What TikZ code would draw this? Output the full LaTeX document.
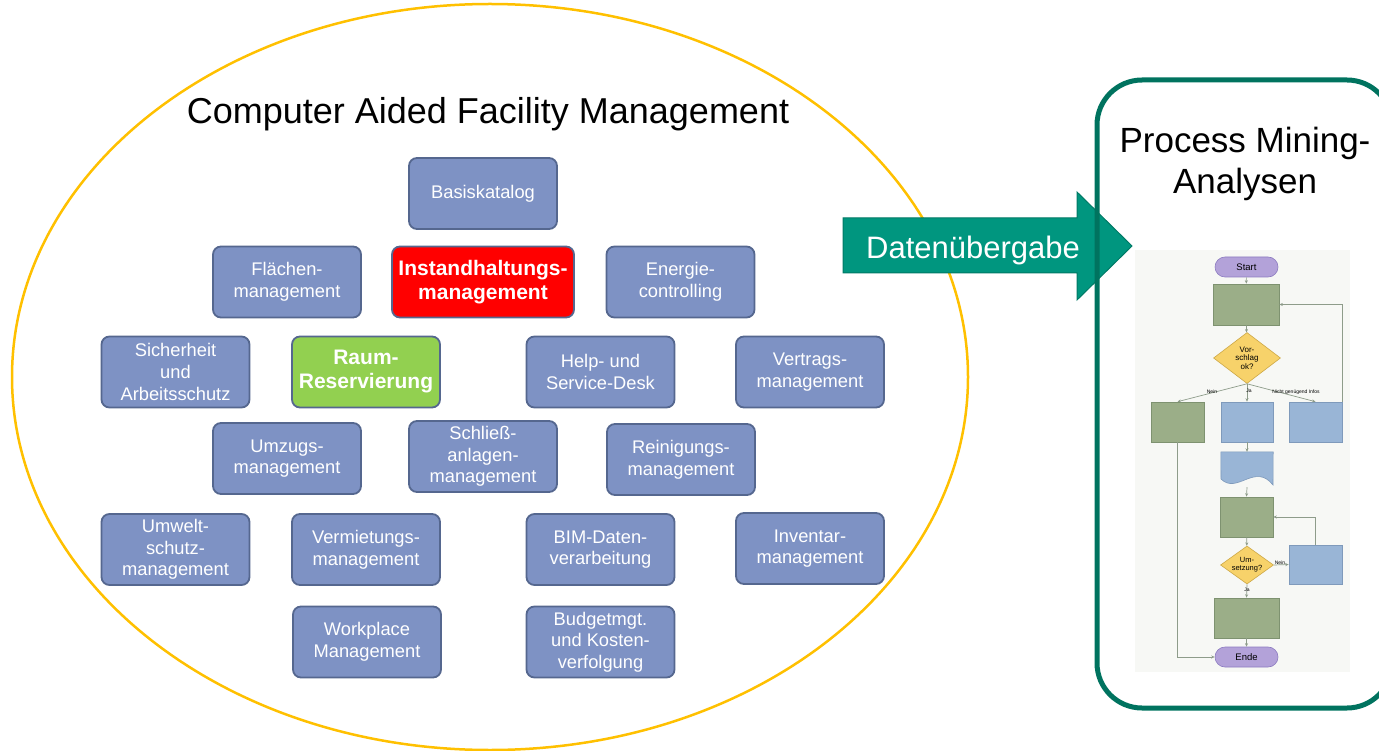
\documentclass[tikz,border=0pt]{standalone}
\usepackage{fontspec}
\setmainfont{Liberation Sans}
\usepackage{xcolor}
\usetikzlibrary{shapes.geometric,arrows.meta}
\definecolor{modulblau}{HTML}{7E92C4}
\definecolor{modulrand}{HTML}{55678F}
\definecolor{instrot}{HTML}{FF0000}
\definecolor{raumgruen}{HTML}{92D050}
\definecolor{cafmgelb}{HTML}{FFC000}
\definecolor{pfeilgruen}{HTML}{00967F}
\definecolor{pfeilrand}{HTML}{007A66}
\definecolor{boxgruen}{HTML}{00735F}
\definecolor{fsgrund}{HTML}{F7F8F5}
\definecolor{fsalbei}{HTML}{9BAE88}
\definecolor{fsalbeirand}{HTML}{7E9270}
\definecolor{fshellblau}{HTML}{99B5D6}
\definecolor{fsblaurand}{HTML}{7F9ABB}
\definecolor{fslila}{HTML}{B3A2D9}
\definecolor{fslilarand}{HTML}{8C7BC0}
\definecolor{fsgelb}{HTML}{F7D26A}
\definecolor{fsgelbrand}{HTML}{CDA846}
\definecolor{fslinie}{HTML}{8E9C8A}
\begin{document}
\begin{tikzpicture}[x=1pt, y=-1pt,
    modul/.style={draw=modulrand, fill=modulblau, line width=1.8pt, rounded corners=8pt,
      minimum width=148pt, minimum height=71pt, inner sep=2pt, align=center, text=white,
      font=\fontsize{18.3}{21.7}\selectfont},
    hervor/.style={modul, font=\fontsize{21}{24}\selectfont\bfseries},
    fsbox/.style={line width=0.6pt, inner sep=0pt},
    fsgruen/.style={fsbox, fill=fsalbei, draw=fsalbeirand},
    fsblau/.style={fsbox, fill=fshellblau, draw=fsblaurand},
    fsend/.style={fsbox, fill=fslila, draw=fslilarand, rounded corners=10pt,
      minimum width=63pt, minimum height=20pt, font=\fontsize{9.5}{10}\selectfont},
    fsraute/.style={fsbox, diamond, fill=fsgelb, draw=fsgelbrand, align=center},
    fspfeil/.style={draw=fslinie, line width=0.7pt, -{Stealth[length=3.5pt,width=3pt]}},
    fslabel/.style={font=\fontsize{5}{6}\selectfont, inner sep=0.5pt}]
    \useasboundingbox (0,0) rectangle (1379,751);
    \draw[cafmgelb, line width=2.5pt] (490,377) ellipse [x radius=478pt, y radius=373pt];
    \node[font=\fontsize{36}{42}\selectfont, anchor=base] (cafm) at (488,124) {Computer Aided Facility Management};

    \node[modul] (basis) at (483,193.5) {Basiskatalog};
    \node[modul] (flaeche) at (287,282) {Flächen-\\management};
    \node[hervor, fill=instrot, minimum width=182pt] (instand) at (483,282) {Instandhaltungs-\\management};
    \node[modul] (energie) at (680.5,282) {Energie-\\controlling};
    \node[modul] (sicher) at (175.5,372) {Sicherheit\\und\\Arbeitsschutz};
    \node[hervor, fill=raumgruen] (raum) at (366,372) {Raum-\\Reservierung};
    \node[modul] (help) at (600.5,372) {Help- und\\Service-Desk};
    \node[modul] (vertrag) at (810,372) {Vertrags-\\management};
    \node[modul] (umzug) at (287,458.5) {Umzugs-\\management};
    \node[modul] (schliess) at (483,456.5) {Schließ-\\anlagen-\\management};
    \node[modul] (reinigung) at (681,459.5) {Reinigungs-\\management};
    \node[modul] (umwelt) at (175.5,549.5) {Umwelt-\\schutz-\\management};
    \node[modul] (vermietung) at (366,549.5) {Vermietungs-\\management};
    \node[modul] (bim) at (600.5,549.5) {BIM-Daten-\\verarbeitung};
    \node[modul] (inventar) at (810,548.5) {Inventar-\\management};
    \node[modul] (workplace) at (367,642) {Workplace\\Management};
    \node[modul] (budget) at (600.5,642) {Budgetmgt.\\und Kosten-\\verfolgung};

    \draw[draw=pfeilrand, fill=pfeilgruen, line width=1pt] (843,218) -- (1077,218) -- (1077,192)
      -- (1132,246) -- (1077,300) -- (1077,273) -- (843,273) -- cycle;
    \node[text=white, font=\fontsize{31}{36}\selectfont, anchor=base] (daten) at (973,259) {Datenübergabe};

    \draw[boxgruen, line width=5pt, rounded corners=45pt] (1097,80) rectangle (1392,708);
    \node[font=\fontsize{35}{41}\selectfont, align=center] (pm) at (1245,164) {Process Mining-\\Analysen};

    \fill[fsgrund] (1135,250) rectangle (1350,672);
    \node[fsend] (start) at (1246.5,267) {Start};
    \node[fsgruen, minimum width=66pt, minimum height=41pt] (g1) at (1246,304.5) {};
    \node[fsraute, aspect=1.3, minimum width=67pt, minimum height=51pt,
      font=\fontsize{8}{8.5}\selectfont] (d1) at (1247,358) {Vor-\\schlag\\ok?};
    \node[fsgruen, minimum width=53pt, minimum height=40pt] (gl) at (1177.5,422) {};
    \node[fsblau, minimum width=52pt, minimum height=40pt] (bm) at (1247,422) {};
    \node[fsblau, minimum width=53pt, minimum height=40pt] (br) at (1315.5,422) {};
    \node[minimum width=52pt, minimum height=35pt, inner sep=0pt] (dok) at (1247,469.5) {};
    \draw[fsblau] (dok.north west) -- (dok.north east) -- (1273,485)
      .. controls (1255,462) and (1237,495) .. (1221,479) -- cycle;
    \node[fsgruen, minimum width=53pt, minimum height=40pt] (g2) at (1246.5,517) {};
    \node[fsraute, aspect=1.4, minimum width=53pt, minimum height=38pt,
      font=\fontsize{7.5}{8}\selectfont] (d2) at (1247,565) {Um-\\setzung?};
    \node[fsblau, minimum width=53pt, minimum height=39pt] (b2) at (1315.5,564.5) {};
    \node[fsgruen, minimum width=65pt, minimum height=40pt] (g3) at (1246.5,618) {};
    \node[fsend] (ende) at (1246.5,657) {Ende};

    \draw[fspfeil] (start) -- (g1);
    \draw[fspfeil] (g1) -- (d1);
    \draw[fspfeil] (d1.south) -- (gl.north);
    \draw[fspfeil] (d1.south) -- (bm.north);
    \draw[fspfeil] (d1.south) -- (br.north);
    \draw[fspfeil] (br.north east) |- (g1.east);
    \draw[fspfeil] (gl.south) |- (ende.west);
    \draw[fspfeil] (bm) -- (dok);
    \draw[fspfeil] (dok.south) -- (g2.north);
    \draw[fspfeil] (g2) -- (d2);
    \draw[fspfeil] (d2.east) -- (b2.west);
    \draw[fspfeil] (b2.north) |- (g2.east);
    \draw[fspfeil] (d2.south) -- (g3.north);
    \draw[fspfeil] (g3) -- (ende);
    \node[fslabel] (nein1) at (1212,392) {Nein};
    \node[fslabel] (ja1) at (1249,391) {Ja};
    \node[fslabel] (infos) at (1296,392) {Nicht genügend Infos};
    \node[fslabel] (nein2) at (1280,563) {Nein};
    \node[fslabel] (ja2) at (1247,590) {Ja};
\end{tikzpicture}
\end{document}
